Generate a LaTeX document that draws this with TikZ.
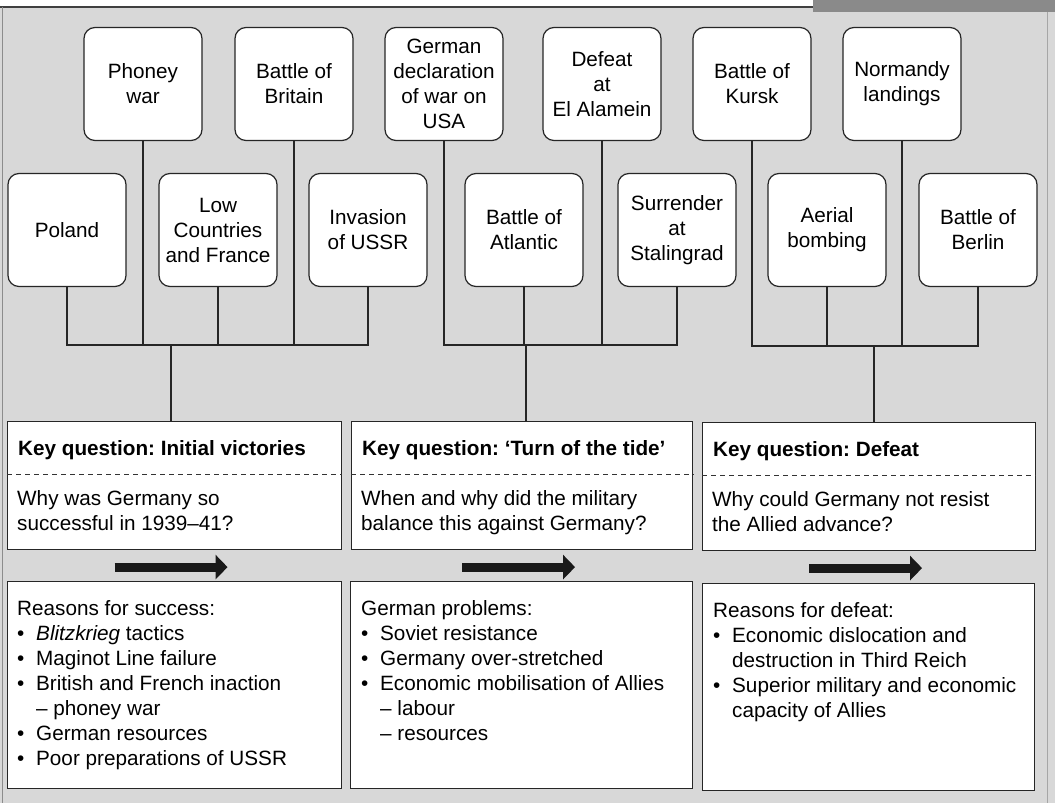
\documentclass[tikz,border=0pt]{standalone}
\usepackage{fontspec}
\setmainfont{Liberation Sans}
\usetikzlibrary{positioning,arrows.meta,calc}
\definecolor{paper}{RGB}{216,216,216}
\definecolor{strip}{RGB}{138,138,138}
\newcommand{\bul}{\makebox[19pt][l]{\textbullet}}
\newcommand{\ind}{\hspace*{19pt}}
\frenchspacing

\begin{document}
\begin{tikzpicture}[x=1pt,y=-1pt,
  every node/.style={font=\fontsize{20.7}{25}\selectfont},
  ev/.style={draw=black!85,line width=1.2pt,fill=white,rounded corners=11pt,
    minimum width=118pt,minimum height=113pt,align=center,inner sep=2pt},
  kq/.style={draw=black!85,line width=1.1pt,fill=white,anchor=north west,inner sep=0pt},
  ttl/.style={font=\fontsize{20.7}{25}\selectfont\bfseries,anchor=base west,inner sep=0pt},
  txt/.style={align=left,inner sep=0pt,anchor=north west},
  stem/.style={line width=1.1pt,black!85},
  bigarrow/.style={line width=9pt,black!90,-{Triangle[length=12pt,width=24pt]}}]
\useasboundingbox (0,0) rectangle (1055,803);
\fill[white] (0,0) rectangle (1055,803);
\fill[paper] (0,7) rectangle (1055,803);
\fill[strip] (813,0) rectangle (1055,12);
\draw[line width=1.5pt,black!75] (0,7) -- (813,7);
\draw[black!45] (2,7) -- (2,803);
\draw[black!35] (1047,12) -- (1047,803);

% events, upper row
\foreach \x/\n/\t in {143/pw/{Phoney\\war}, 294/bb/{Battle of\\Britain},
    444/gd/{German\\declaration\\of war on\\USA}, 602/ea/{Defeat\\at\\El Alamein},
    752/bk/{Battle of\\Kursk}, 902/nl/{Normandy\\landings}}
  \node[ev] (\n) at (\x,84) {\t};
% events, lower row
\foreach \x/\n/\t in {67/pl/{Poland}, 218/lc/{Low\\Countries\\and France},
    368/us/{Invasion\\of USSR}, 524/ba/{Battle of\\Atlantic},
    677/sg/{Surrender\\at\\Stalingrad}, 827/ab/{Aerial\\bombing}, 978/bl/{Battle of\\Berlin}}
  \node[ev] (\n) at (\x,230) {\t};

% key questions
\node[kq,minimum width=334pt,minimum height=128pt] (k1) at (7,421) {};
\node[kq,minimum width=341pt,minimum height=128pt] (k2) at (351,421) {};
\node[kq,minimum width=333pt,minimum height=128pt] (k3) at (702,422) {};
\foreach \k/\t/\q in {k1/{Key question: Initial victories}/{Why was Germany so\\successful in 1939–41?},
    k2/{Key question: ‘Turn of the tide’}/{When and why did the military\\balance this against Germany?},
    k3/{Key question: Defeat}/{Why could Germany not resist\\the Allied advance?}} {
  \node[ttl] (\k t) at ($(\k.north west)+(11,34)$) {\t};
  \draw[dashed,dash pattern=on 5pt off 4pt,black!80] ($(\k.north west)+(0,53)$) -- ($(\k.north east)+(0,53)$);
  \node[txt] (\k q) at ($(\k.north west)+(10,69)$) {\q};
  \draw[bigarrow] ($(\k.south)+(-60,17)$) -- ($(\k.south)+(53,17)$);
}

% reasons
\node[kq,minimum width=334pt,minimum height=207pt] (r1) at (7,581) {};
\node[kq,minimum width=342pt,minimum height=207pt] (r2) at (350,581) {};
\node[kq,minimum width=332pt,minimum height=207pt] (r3) at (702,583) {};
\node[txt] at ($(r1.north west)+(10,19)$) {Reasons for success:\\
  \bul\textit{Blitzkrieg} tactics\\
  \bul Maginot Line failure\\
  \bul British and French inaction\\
  \ind– phoney war\\
  \bul German resources\\
  \bul Poor preparations of USSR};
\node[txt] at ($(r2.north west)+(11,19)$) {German problems:\\
  \bul Soviet resistance\\
  \bul Germany over-stretched\\
  \bul Economic mobilisation of Allies\\
  \ind– labour\\
  \ind– resources};
\node[txt] at ($(r3.north west)+(11,19)$) {Reasons for defeat:\\
  \bul Economic dislocation and\\
  \ind destruction in Third Reich\\
  \bul Superior military and economic\\
  \ind capacity of Allies};

% connectors
\coordinate (j1) at (171,345);
\coordinate (j2) at (526,345);
\coordinate (j3) at (874,346);
\draw[stem] (pl.south) |- (us.south |- j1) -- (us.south);
\foreach \n in {pw,lc,bb} \draw[stem] (\n.south) -- (\n.south |- j1);
\draw[stem] (j1) -- (j1 |- k1.north);
\draw[stem] (gd.south) |- (sg.south |- j2) -- (sg.south);
\foreach \n in {ba,ea} \draw[stem] (\n.south) -- (\n.south |- j2);
\draw[stem] (j2) -- (j2 |- k2.north);
\draw[stem] (bk.south) |- (bl.south |- j3) -- (bl.south);
\foreach \n in {ab,nl} \draw[stem] (\n.south) -- (\n.south |- j3);
\draw[stem] (j3) -- (j3 |- k3.north);
\end{tikzpicture}
\end{document}
